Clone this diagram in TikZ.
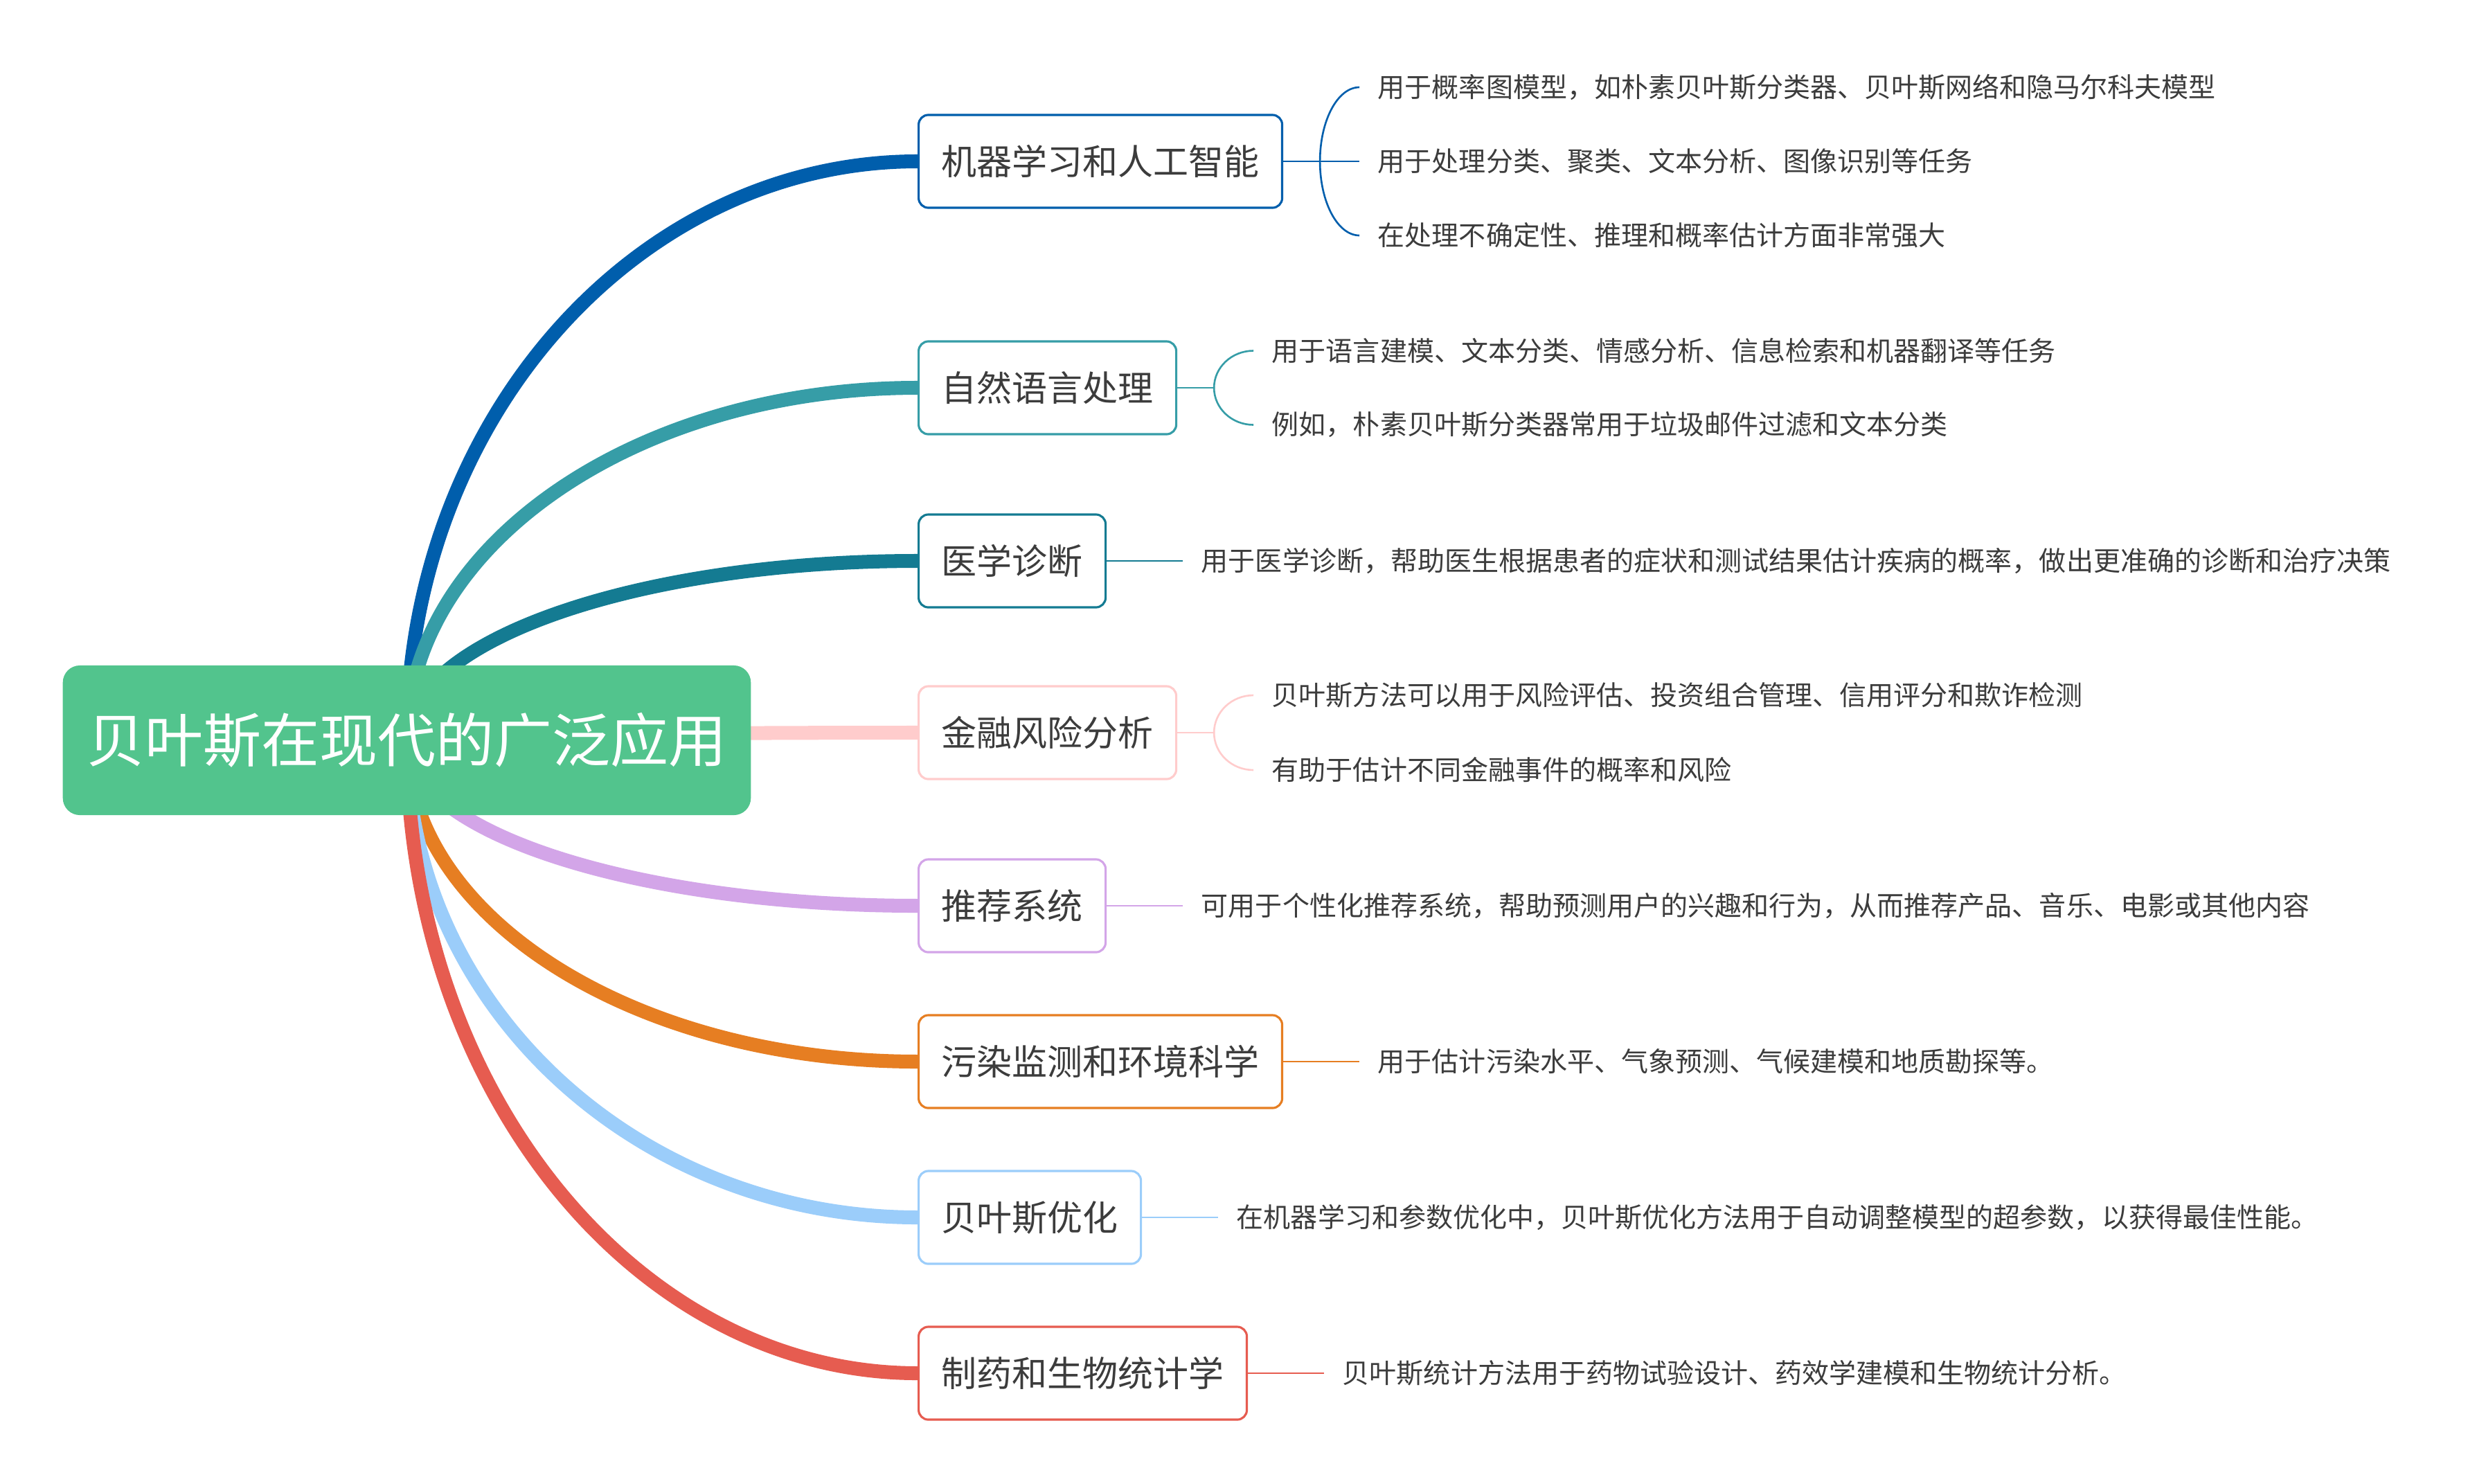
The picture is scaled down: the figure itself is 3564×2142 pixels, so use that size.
\documentclass[tikz,border=0pt]{standalone}
\usepackage{fontspec}
\setmainfont{Noto Sans CJK SC}
\usetikzlibrary{calc}
\pgfdeclarelayer{bg}
\pgfsetlayers{bg,main}
\definecolor{cRoot}{RGB}{82,196,141}
\definecolor{cA}{RGB}{0,94,172}
\definecolor{cB}{RGB}{54,157,167}
\definecolor{cC}{RGB}{20,123,146}
\definecolor{cD}{RGB}{255,204,204}
\definecolor{cE}{RGB}{211,165,232}
\definecolor{cF}{RGB}{230,126,34}
\definecolor{cG}{RGB}{155,205,250}
\definecolor{cH}{RGB}{230,92,80}
\definecolor{txt}{RGB}{60,60,60}
\begin{document}
\begin{tikzpicture}[x=0.01cm,y=-0.01cm,
  branchbox/.style={draw=#1, line width=0.9pt, rounded corners=4pt, fill=white,
    minimum height=1.34cm, inner xsep=0.33cm, inner ysep=0pt, anchor=west,
    font=\fontsize{14.5pt}{16pt}\selectfont, text=txt},
  leaf/.style={anchor=west, inner xsep=0.26cm, inner ysep=0pt,
    font=\fontsize{11.1pt}{13pt}\selectfont, text=txt},
  trunk/.style={draw=#1, line width=5.7pt},
  twig/.style={draw=#1, line width=0.75pt},
  bow/.style={to path={.. controls ($(\tikztostart)!0.552!(\tikztostart |- \tikztotarget)$) and ($(\tikztotarget)!0.552!(\tikztostart |- \tikztotarget)$) .. (\tikztotarget)}}
]
\useasboundingbox (0,0) rectangle (3564,2142);

% root
\node[fill=cRoot, rounded corners=7pt, minimum width=9.93cm, minimum height=2.16cm,
  inner sep=0pt, text=white, font=\fontsize{23.9pt}{28pt}\selectfont]
  (root) at (587.5,1069) {贝叶斯在现代的广泛应用};

% branches
\node[branchbox=cA] (b1) at (1325,233) {机器学习和人工智能};
\node[branchbox=cB] (b2) at (1325,560) {自然语言处理};
\node[branchbox=cC] (b3) at (1325,810) {医学诊断};
\node[branchbox=cD] (b4) at (1325,1058) {金融风险分析};
\node[branchbox=cE] (b5) at (1325,1308) {推荐系统};
\node[branchbox=cF] (b6) at (1325,1533) {污染监测和环境科学};
\node[branchbox=cG] (b7) at (1325,1758) {贝叶斯优化};
\node[branchbox=cH] (b8) at (1325,1983) {制药和生物统计学};

% split points
\coordinate (s1) at ($(b1.east)+(53,0)$);
\coordinate (s2) at ($(b2.east)+(53,0)$);
\coordinate (s4) at ($(b4.east)+(53,0)$);

% leaves
\node[leaf] (l1a) at ($(b1.east)+(110,-107)$) {用于概率图模型，如朴素贝叶斯分类器、贝叶斯网络和隐马尔科夫模型};
\node[leaf] (l1b) at ($(b1.east)+(110,0)$) {用于处理分类、聚类、文本分析、图像识别等任务};
\node[leaf] (l1c) at ($(b1.east)+(110,107)$) {在处理不确定性、推理和概率估计方面非常强大};
\node[leaf] (l2a) at ($(b2.east)+(110,-53.5)$) {用于语言建模、文本分类、情感分析、信息检索和机器翻译等任务};
\node[leaf] (l2b) at ($(b2.east)+(110,53.5)$) {例如，朴素贝叶斯分类器常用于垃圾邮件过滤和文本分类};
\node[leaf] (l3) at ($(b3.east)+(110,0)$) {用于医学诊断，帮助医生根据患者的症状和测试结果估计疾病的概率，做出更准确的诊断和治疗决策};
\node[leaf] (l4a) at ($(b4.east)+(110,-54)$) {贝叶斯方法可以用于风险评估、投资组合管理、信用评分和欺诈检测};
\node[leaf] (l4b) at ($(b4.east)+(110,54)$) {有助于估计不同金融事件的概率和风险};
\node[leaf] (l5) at ($(b5.east)+(110,0)$) {可用于个性化推荐系统，帮助预测用户的兴趣和行为，从而推荐产品、音乐、电影或其他内容};
\node[leaf] (l6) at ($(b6.east)+(110,0)$) {用于估计污染水平、气象预测、气候建模和地质勘探等。};
\node[leaf] (l7) at ($(b7.east)+(110,0)$) {在机器学习和参数优化中，贝叶斯优化方法用于自动调整模型的超参数，以获得最佳性能。};
\node[leaf] (l8) at ($(b8.east)+(110,0)$) {贝叶斯统计方法用于药物试验设计、药效学建模和生物统计分析。};

\begin{pgfonlayer}{bg}
% trunks
\draw[trunk=cA] (root.center) to[bow] (b1.west);
\draw[trunk=cB] (root.center) to[bow] (b2.west);
\draw[trunk=cC] (root.center) to[bow] (b3.west);
\draw[trunk=cD] (root.center) to[bow] (b4.west);
\draw[trunk=cE] (root.center) to[bow] (b5.west);
\draw[trunk=cF] (root.center) to[bow] (b6.west);
\draw[trunk=cG] (root.center) to[bow] (b7.west);
\draw[trunk=cH] (root.center) to[bow] (b8.west);
% twigs
\draw[twig=cA] (b1.east) -- (s1);
\draw[twig=cA] (s1) to[bow] (l1a.west);
\draw[twig=cA] (s1) -- (l1b.west);
\draw[twig=cA] (s1) to[bow] (l1c.west);
\draw[twig=cB] (b2.east) -- (s2);
\draw[twig=cB] (s2) to[bow] (l2a.west);
\draw[twig=cB] (s2) to[bow] (l2b.west);
\draw[twig=cC] (b3.east) -- (l3.west);
\draw[twig=cD] (b4.east) -- (s4);
\draw[twig=cD] (s4) to[bow] (l4a.west);
\draw[twig=cD] (s4) to[bow] (l4b.west);
\draw[twig=cE] (b5.east) -- (l5.west);
\draw[twig=cF] (b6.east) -- (l6.west);
\draw[twig=cG] (b7.east) -- (l7.west);
\draw[twig=cH] (b8.east) -- (l8.west);
\end{pgfonlayer}
\end{tikzpicture}
\end{document}
